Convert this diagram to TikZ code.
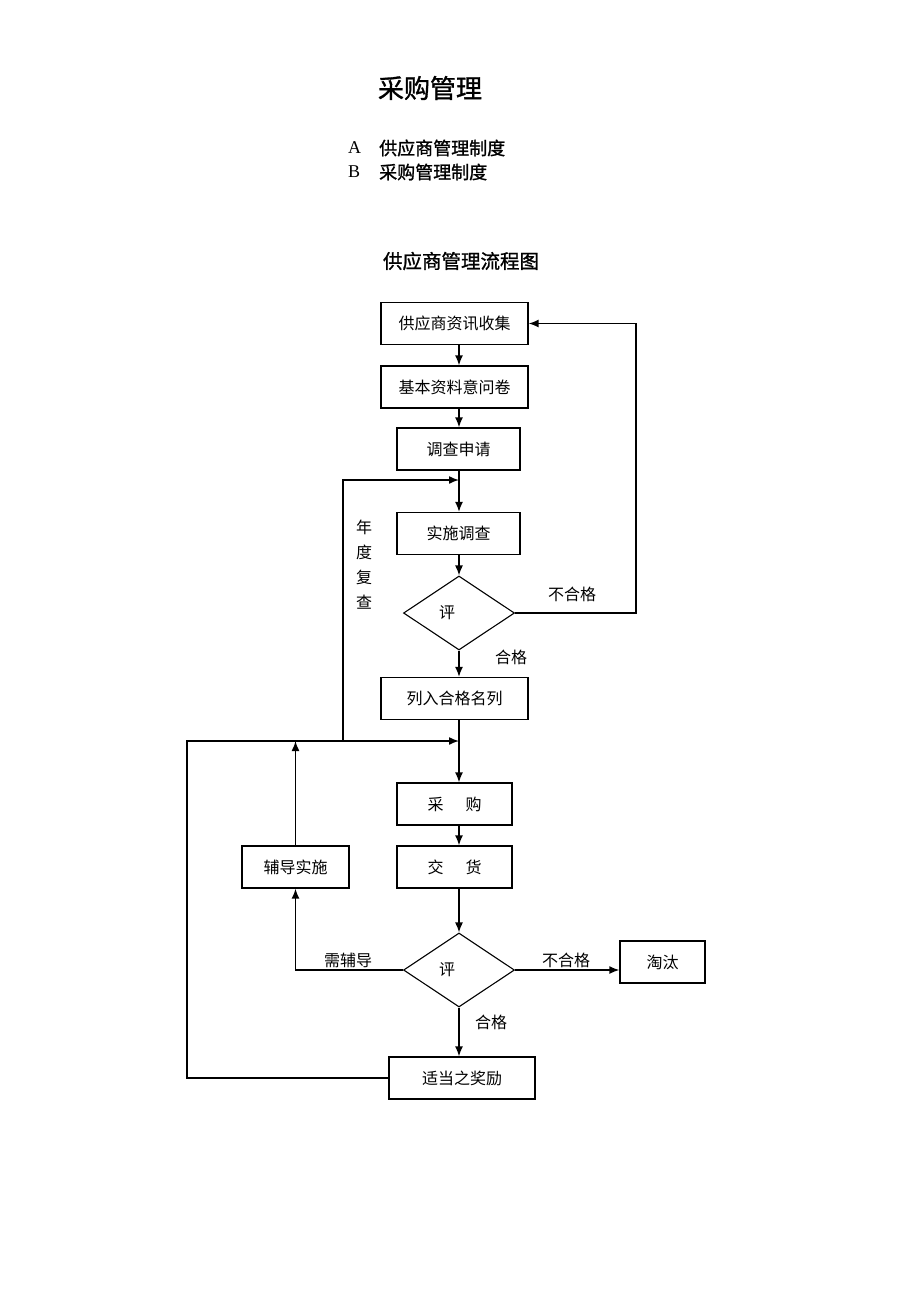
\documentclass[tikz,border=0pt]{standalone}
\usepackage{fontspec}
\setmainfont{Liberation Serif}
\newfontfamily\cjk{Noto Sans CJK SC}
\newfontfamily\cjkh[FakeBold=1.2]{Noto Sans CJK SC}
\usetikzlibrary{shapes.geometric,arrows.meta}

\begin{document}
\begin{tikzpicture}[x=1pt,y=-1pt,
    box/.style={draw,line width=1.3pt,inner sep=0pt,minimum height=42pt,
      font=\cjk\fontsize{16}{16}\selectfont},
    judge/.style={draw,diamond,line width=1.1pt,inner sep=0pt,
      minimum width=111pt,minimum height=74pt},
    lbl/.style={font=\cjk\fontsize{16}{16}\selectfont,inner sep=0pt},
    arr/.style={line width=1.5pt,-{Latex[length=10pt,width=8pt]}},
    ln/.style={line width=1.5pt}]
      \useasboundingbox (0,0) rectangle (920,1302);
      % headings
      \node[font=\cjkh\fontsize{26}{26}\selectfont] (title) at (430,88) {采购管理};
      \node[anchor=west,font=\fontsize{18}{18}\selectfont,inner sep=0pt] (ia) at (348,148) {A};
      \node[anchor=west,font=\cjkh\fontsize{18}{18}\selectfont,inner sep=0pt] (ta) at (379,148) {供应商管理制度};
      \node[anchor=west,font=\fontsize{18}{18}\selectfont,inner sep=0pt] (ib) at (348,172) {B};
      \node[anchor=west,font=\cjkh\fontsize{18}{18}\selectfont,inner sep=0pt] (tb) at (379,172) {采购管理制度};
      \node[font=\cjkh\fontsize{19.5}{20}\selectfont] (sub) at (461,261) {供应商管理流程图};
      % boxes
      \node[box,minimum width=147pt] (n1) at (454.5,323.5) {供应商资讯收集};
      \node[box,minimum width=147pt] (n2) at (454.5,387) {基本资料意问卷};
      \node[box,minimum width=123pt] (n3) at (458.5,449) {调查申请};
      \node[box,minimum width=123pt] (n4) at (458.5,533.5) {实施调查};
      \node[judge,label={[lbl,xshift=-12pt]center:评}] (d1) at (459,613) {};
      \node[box,minimum width=147pt] (n5) at (454.5,698.5) {列入合格名列};
      \node[box,minimum width=115pt] (n6) at (454.5,804) {采\hspace{22pt}购};
      \node[box,minimum width=115pt] (n7) at (454.5,867) {交\hspace{22pt}货};
      \node[box,minimum width=107pt] (n8) at (295.5,867) {辅导实施};
      \node[judge,label={[lbl,xshift=-12pt]center:评}] (d2) at (459,970) {};
      \node[box,minimum width=85pt] (n9) at (662.5,962) {淘汰};
      \node[box,minimum width=146pt] (n10) at (462,1078) {适当之奖励};
      % helper points
      \coordinate (j1) at (459,480);
      \coordinate (j2) at (459,741);
      \coordinate (k1) at (343,480);
      \coordinate (k2) at (343,741);
      \coordinate (l1) at (187,741);
      \coordinate (r1) at (636,323.5);
      % main line
      \draw[arr] (d1 |- n1.south) -- (d1 |- n2.north);
      \draw[arr] (d1 |- n2.south) -- (d1 |- n3.north);
      \draw[arr] (d1 |- n3.south) -- (d1 |- n4.north);
      \draw[arr] (d1 |- n4.south) -- (d1.north);
      \draw[arr] (d1.south) -- (d1 |- n5.north);
      \draw[arr] (d1 |- n5.south) -- (d1 |- n6.north);
      \draw[arr] (d1 |- n6.south) -- (d1 |- n7.north);
      \draw[arr] (d1 |- n7.south) -- (d2.north);
      \draw[arr] (d2.south) -- (d2 |- n10.north);
      % loops
      \draw[arr] (d1.east) -| (r1) -- (n1.east);
      \draw[arr] (k2) -- (k1) -- (j1);
      \draw[arr] (n10.west) -| (l1) -- (j2);
      \draw[arr] (d2.west) -| (n8.south);
      \draw[arr] (n8.north) -- (n8.north |- j2);
      \draw[arr] (d2.east) -- (d2.east -| n9.west);
      % labels
      \node[lbl] (f1) at (572,594) {不合格};
      \node[lbl] (p1) at (511,657) {合格};
      \node[lbl,align=center] (yr) at (364,565) {年\\[9pt]度\\[9pt]复\\[9pt]查};
      \node[lbl] (need) at (348,960) {需辅导};
      \node[lbl] (f2) at (566,960) {不合格};
      \node[lbl] (p2) at (491,1022) {合格};
\end{tikzpicture}
\end{document}
